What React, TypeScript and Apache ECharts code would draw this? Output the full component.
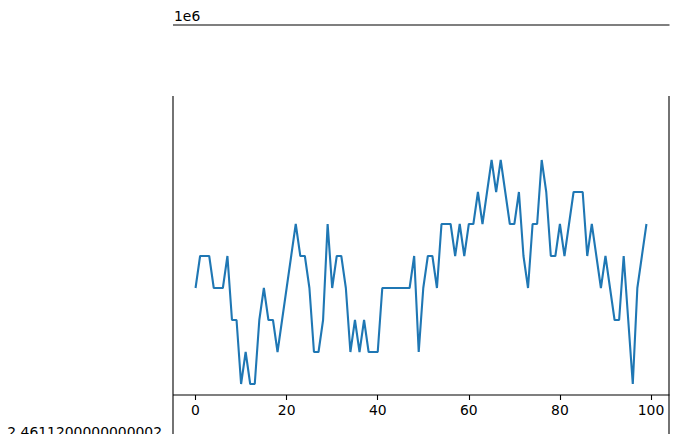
import React, { useEffect, useRef } from "react";
import * as echarts from "echarts";

// Step levels (index 0..99), in units above the base value
const xValues: number[] = Array.from({ length: 100 }, (_, i) => i);
const levels: number[] = [
  3, 4, 4, 4, 3, 3, 3, 4, 2, 2,
  0, 1, 0, 0, 2, 3, 2, 2, 1, 2,
  3, 4, 5, 4, 4, 3, 1, 1, 2, 5,
  3, 4, 4, 3, 1, 2, 1, 2, 1, 1,
  1, 3, 3, 3, 3, 3, 3, 3, 4, 1,
  3, 4, 4, 3, 5, 5, 5, 4, 5, 4,
  5, 5, 6, 5, 6, 7, 6, 7, 6, 5,
  5, 6, 4, 3, 5, 5, 7, 6, 4, 4,
  5, 4, 5, 6, 6, 6, 4, 5, 4, 3,
  4, 3, 2, 2, 4, 2, 0, 3, 4, 5,
];
const baseValue = 2461121.5;
const yValues: number[] = levels.map((l) => baseValue + l);

const xTickValues: number[] = [0, 20, 40, 60, 80, 100];
const yTickValues: number[] = [2461120];
const yTickLabels: string[] = ["2.4611200000000002"];
const offsetText = "1e6";

const FONT = "DejaVu Sans";

export default function App() {
  const ref = useRef<HTMLDivElement>(null);
  useEffect(() => {
    if (!ref.current) return;
    const chart = echarts.init(ref.current, undefined, { renderer: "svg" });
    const spine = { stroke: "#000", lineWidth: 1.1 };
    chart.setOption({
      animation: false,
      backgroundColor: "#fff",
      grid: {
        left: 173,
        right: 10,
        top: 25,
        bottom: 2,
        containLabel: false,
        outerBoundsMode: "none",
      },
      xAxis: {
        type: "value",
        min: -4.95,
        max: 103.95,
        offset: -37,
        axisLine: { show: false },
        splitLine: { show: false },
        axisTick: {
          show: true,
          length: 5,
          customValues: xTickValues,
          lineStyle: { color: "#000", width: 1.1 },
        },
        axisLabel: {
          show: true,
          margin: 8,
          customValues: xTickValues,
          color: "#000",
          fontFamily: FONT,
          fontSize: 13.9,
          showMinLabel: true,
          showMaxLabel: true,
        },
      },
      yAxis: {
        type: "value",
        min: 2461120,
        max: 2461120 + 407 / 32,
        axisLine: { show: false },
        splitLine: { show: false },
        axisTick: { show: false },
        axisLabel: {
          show: true,
          margin: 11,
          customValues: yTickValues,
          color: "#000",
          fontFamily: FONT,
          fontSize: 13.9,
          formatter: (v: number) => {
            const idx = yTickValues.indexOf(v);
            return idx >= 0 ? yTickLabels[idx] : "";
          },
        },
      },
      series: [
        {
          type: "line",
          data: xValues.map((x, i) => [x, yValues[i]]),
          showSymbol: false,
          symbol: "none",
          lineStyle: { color: "#1f77b4", width: 2.1 },
          clip: false,
        },
      ],
      graphic: [
        { type: "line", shape: { x1: 173, y1: 25, x2: 669.5, y2: 25 }, style: spine, silent: true },
        { type: "line", shape: { x1: 173, y1: 96, x2: 173, y2: 434 }, style: spine, silent: true },
        { type: "line", shape: { x1: 669, y1: 96, x2: 669, y2: 434 }, style: spine, silent: true },
        { type: "line", shape: { x1: 173, y1: 395, x2: 669.5, y2: 395 }, style: spine, silent: true },
        {
          type: "text",
          x: 174,
          y: 16,
          style: {
            text: offsetText,
            fill: "#000",
            font: `13.9px "${FONT}"`,
            verticalAlign: "middle",
            align: "left",
          },
          silent: true,
        },
      ],
    });
    return () => chart.dispose();
  }, []);
  return (
    <div
      ref={ref}
      style={{ position: "fixed", left: 0, top: 0, width: 679, height: 434 }}
    />
  );
}
